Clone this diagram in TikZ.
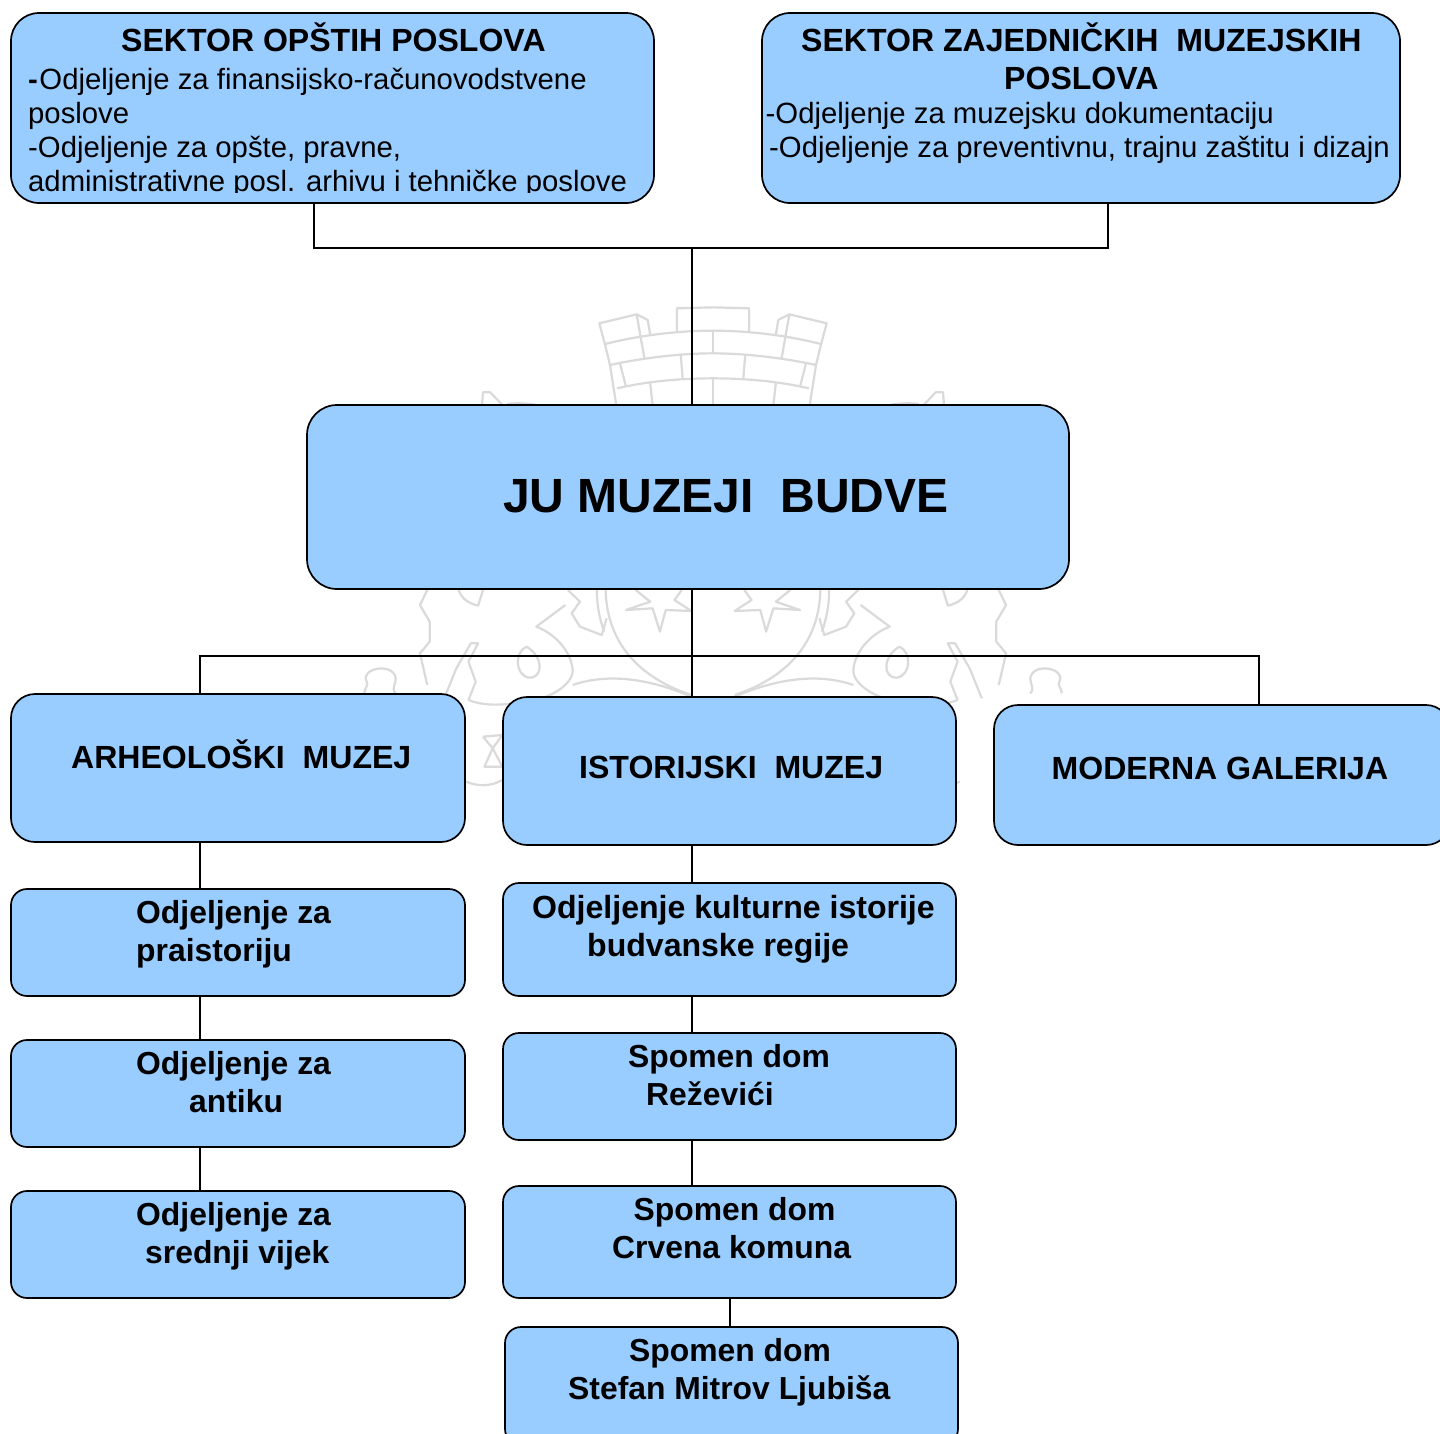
\documentclass[tikz,border=0pt]{standalone}
\usepackage{fontspec}
\setmainfont{Liberation Sans}
\definecolor{boxblue}{HTML}{99CCFF}
\definecolor{wm}{HTML}{DADADA}
\tikzset{
  boxs/.style={draw=black,fill=boxblue,line width=1.7pt,inner sep=0pt,outer sep=0pt},
  conn/.style={draw=black,line width=1.7pt},
  wmline/.style={draw=wm,line width=2.2pt,line join=round},
  ttl/.style={font=\fontsize{31.85}{38}\selectfont\bfseries,anchor=base west,align=left,inner sep=0pt,text=black},
  ttlb/.style={ttl,font=\fontsize{32.05}{38}\selectfont\bfseries},
  big/.style={font=\fontsize{48}{56}\selectfont\bfseries,anchor=base west,inner sep=0pt,text=black},
  body/.style={font=\fontsize{29.3}{34}\selectfont,anchor=base west,align=left,inner sep=0pt,text=black}
}
\newcommand\bx[6]{\node[boxs,rounded corners=#6pt,minimum width={(#4-#2)*1pt},minimum height={(#5-#3)*1pt}] (#1) at ({(#2+#4)/2},{(#3+#5)/2}) {};}
\begin{document}
\begin{tikzpicture}[x=1pt,y=-1pt]
\clip (0,0) rectangle (1440,1433);
\fill[white] (0,0) rectangle (1440,1433);
% faint coat of arms behind the chart
\foreach \m in {1,-1}{
\begin{scope}[shift={(713,0)},xscale=\m,shift={(-713,0)}]
 \begin{scope}[shift={(340,290)},x=0.4847pt,y=-0.3333pt]
  \draw[wmline] (570,345)--(557,225)--(547,165)--(535,100)--(612,73)--(628,205);
  \draw[wmline] (612,73)--(635,90)--(640,135);
  \draw[wmline] (695,125)--(695,55)--(770,52);
  \draw[wmline] (547,162) .. controls (620,135) and (700,122) .. (770,122);
  \draw[wmline] (557,225) .. controls (620,205) and (700,190) .. (770,190);
  \draw[wmline] (572,295) .. controls (630,275) and (700,265) .. (770,265);
  \draw[wmline] (770,122)--(770,188);
  \draw[wmline] (703,195)--(707,265);
  \draw[wmline] (578,222)--(590,290);
  \draw[wmline] (640,280)--(645,345);
  \draw[wmline] (770,265)--(770,345);
  \draw[wmline] (293,345)--(295,307)--(310,307)--(335,345);
  \draw[wmline] (345,342) .. controls (365,338) and (385,340) .. (405,345);
 \end{scope}
 \begin{scope}[shift={(340,585)},x=0.4847pt,y=-0.3333pt]
  \draw[wmline] (610,15)--(640,50)--(590,75)--(645,70)--(660,140)--(672,75)--(725,78)--(690,45)--(705,15);
  \draw[wmline] (548,15) .. controls (550,150) and (600,270) .. (725,330);
  \draw[wmline] (530,15) .. controls (530,60) and (535,100) .. (545,140);
  \draw[wmline] (180,15)--(165,60)--(185,110)--(185,170)--(165,205)--(180,300);
  \draw[wmline] (245,15) .. controls (250,40) and (265,55) .. (285,62)--(295,15);
  \draw[wmline] (385,185) .. controls (360,200) and (360,270) .. (390,278) .. controls (420,280) and (420,215) .. (385,185);
  \draw[wmline] (470,15)--(495,50)--(478,85)--(495,125)--(540,150)--(550,100);
  \draw[wmline] (465,60)--(405,125) .. controls (450,150) and (480,210) .. (480,260) .. controls (478,300) and (430,350) .. (360,355) .. controls (320,362) and (290,360) .. (265,345);
  \draw[wmline] (480,300) .. controls (540,270) and (620,270) .. (725,335);
  \draw[wmline] (215,340)--(240,250)--(270,175)--(285,175)--(265,230)--(280,290)--(265,345);
  \draw[wmline] (50,325) .. controls (50,310) and (60,300) .. (55,290) .. controls (40,250) and (110,230) .. (115,280) .. controls (115,300) and (105,310) .. (115,325);
  \draw[wmline] (295,455)--(335,450)--(315,490)--(335,545)--(298,545)--(315,490)--(295,455);
  \draw[wmline] (260,590) .. controls (285,605) and (310,605) .. (335,585);
 \end{scope}
\end{scope}}
% boxes
\bx{opsti}{11}{13}{654}{203}{28}
\bx{zaj}{762}{13}{1400}{203}{28}
\bx{ju}{307}{405}{1069}{589}{30}
\bx{arh}{11}{694}{465}{842}{24}
\bx{ist}{503}{697}{956}{845}{24}
\bx{mod}{994}{705}{1450}{845}{24}
\bx{pra}{11}{889}{465}{996}{16}
\bx{ant}{11}{1040}{465}{1147}{16}
\bx{sre}{11}{1191}{465}{1298}{16}
\bx{kul}{503}{883}{956}{996}{16}
\bx{rez}{503}{1033}{956}{1140}{16}
\bx{crv}{503}{1186}{956}{1298}{16}
\bx{lju}{505}{1327}{958}{1445}{16}
% labels
\node[ttlb] (topsti) at (121,51.5) {SEKTOR OPŠTIH POSLOVA};
\begin{scope}
\clip (0,0) rectangle (700,192);
\node[body] (bopsti) at (28,191) {\textbf{-}\hspace{1.5pt}Odjeljenje za finansijsko-računovodstvene\\poslove\\-Odjeljenje za opšte, pravne,\\administrativne posl. arhivu i tehničke poslove};
\end{scope}
\node[ttlb] (tzaj) at (801,89) {SEKTOR ZAJEDNIČKIH\ \ MUZEJSKIH\\\hspace*{203pt}POSLOVA};
\node[body] (bzaj) at (765.5,157.6) {-Odjeljenje za muzejsku dokumentaciju\\\hspace*{3.5pt}-Odjeljenje za preventivnu, trajnu zaštitu i dizajn};
\node[big] (tju) at (503,512.5) {JU MUZEJI\ \ BUDVE};
\node[ttlb] (tarh) at (71,768) {ARHEOLOŠKI\ \ MUZEJ};
\node[ttlb] (tist) at (579,778) {ISTORIJSKI\ \ MUZEJ};
\node[ttlb] (tmod) at (1051.5,779) {MODERNA GALERIJA};
\node[ttl] (tpra) at (136,961) {Odjeljenje za\\praistoriju};
\node[ttl] (tant) at (136,1112) {Odjeljenje za\\\hspace*{53pt}antiku};
\node[ttl] (tsre) at (136,1263.5) {Odjeljenje za\\\hspace*{9pt}srednji vijek};
\node[ttlb] (tkul) at (532,956) {Odjeljenje kulturne istorije\\\hspace*{55pt}budvanske regije};
\node[ttl] (trez) at (628,1105) {Spomen dom\\\hspace*{18pt}Reževići};
\node[ttl] (tcrv) at (612,1258) {\hspace*{21.5pt}Spomen dom\\Crvena komuna};
\node[ttl] (tlju) at (568,1399) {\hspace*{61pt}Spomen dom\\Stefan Mitrov Ljubiša};
% connector guides
\coordinate (busAl) at (314,248);
\coordinate (busAr) at (1108,248);
\coordinate (busAm) at (692,248);
\coordinate (busBl) at (200,656);
\coordinate (busBr) at (1259,656);
\coordinate (colL) at (200,900);
\coordinate (colM) at (692,900);
\coordinate (colB) at (730,1300);
% connectors
\draw[conn] (opsti.south -| busAl) -- (busAl) -- (busAr) -- (zaj.south -| busAr);
\draw[conn] (busAm) -- (ju.north -| busAm);
\draw[conn] (ju.south -| colM) -- (ist.north -| colM);
\draw[conn] (arh.north -| busBl) -- (busBl) -- (busBr) -- (mod.north -| busBr);
\draw[conn] (arh.south -| colL) -- (pra.north -| colL);
\draw[conn] (pra.south -| colL) -- (ant.north -| colL);
\draw[conn] (ant.south -| colL) -- (sre.north -| colL);
\draw[conn] (ist.south -| colM) -- (kul.north -| colM);
\draw[conn] (kul.south -| colM) -- (rez.north -| colM);
\draw[conn] (rez.south -| colM) -- (crv.north -| colM);
\draw[conn] (crv.south -| colB) -- (lju.north -| colB);
\end{tikzpicture}
\end{document}
